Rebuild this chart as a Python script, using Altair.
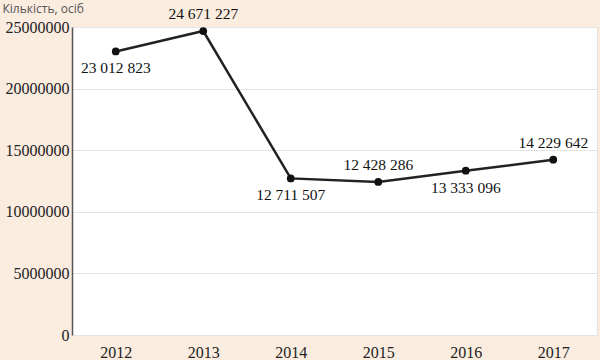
import altair as alt
import pandas as pd

years = ["2012", "2013", "2014", "2015", "2016", "2017"]
values = [23012823, 24671227, 12711507, 12428286, 13333096, 14229642]
label_side = ["below", "above", "below", "above", "below", "above"]
y_ticks = [0, 5000000, 10000000, 15000000, 20000000, 25000000]

df = pd.DataFrame({
    "year": years,
    "value": values,
    "side": label_side,
    "label": [f"{v:,}".replace(",", " ") for v in values],
})

serif = "Liberation Serif"

x_enc = alt.X(
    "year:O",
    scale=alt.Scale(type="point", padding=0.5),
    axis=alt.Axis(
        title=None, labelAngle=0, labelFont=serif, labelFontSize=16,
        labelColor="#222222", ticks=False, domain=False, labelPadding=9,
        grid=False,
    ),
)
y_enc = alt.Y(
    "value:Q",
    scale=alt.Scale(domain=[0, 25000000], nice=False),
    axis=alt.Axis(
        values=y_ticks, format="d", labelFont=serif, labelFontSize=16,
        labelColor="#222222", ticks=False, labelPadding=3,
        domainColor="#555555", domainWidth=1.5,
        gridColor="#e4e4e4", gridWidth=1,
        title="Кількість, осіб", titleAngle=0, titleX=-70, titleY=-19,
        titleAlign="left", titleBaseline="middle", titleFont="Open Sans",
        titleFontSize=12, titleFontWeight="normal", titleColor="#555555",
    ),
)

base = alt.Chart(df).encode(x=x_enc, y=y_enc)

line = base.mark_line(color="#222222", strokeWidth=2.5)
pts = base.mark_point(filled=True, color="#111111", size=60, opacity=1)

lab_above = base.transform_filter(alt.datum.side == "above").mark_text(
    font=serif, fontSize=15.5, color="#111111", dy=-17, baseline="middle"
).encode(text="label:N")
lab_below = base.transform_filter(alt.datum.side == "below").mark_text(
    font=serif, fontSize=15.5, color="#111111", dy=17, baseline="middle"
).encode(text="label:N")

chart = (
    alt.layer(line, pts, lab_above, lab_below)
    .properties(
        width=525, height=308,
        autosize=alt.AutoSizeParams(type="none"),
        padding={"left": 72, "top": 27, "right": 3, "bottom": 25},
        background="#faecdf",
    )
    .configure_view(fill="#ffffff", stroke="#e8e2dc", strokeWidth=1)
)

chart.save("out.html", embed_options={"renderer": "svg", "actions": False})
